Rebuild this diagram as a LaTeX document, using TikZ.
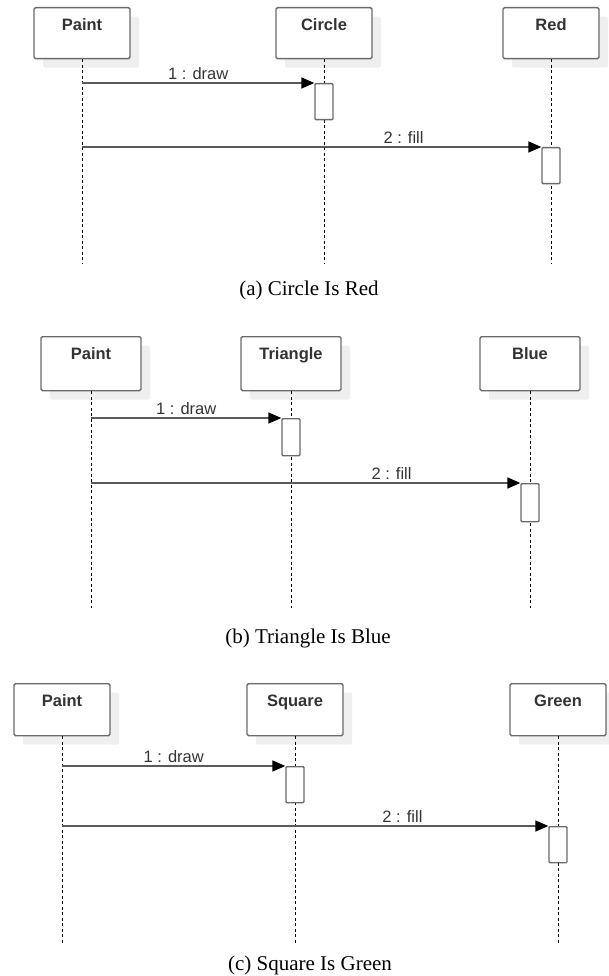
\documentclass[tikz,border=0pt]{standalone}
\usepackage{fontspec}
\setmainfont{Liberation Serif}
\setsansfont{Liberation Sans}
\usepackage{tikz}
\usetikzlibrary{
  arrows.meta,
  positioning,
  shadows
}
\definecolor{sdLine}{HTML}{6A6A6A}
\definecolor{sdArrow}{HTML}{5A5A5A}
\definecolor{sdShadow}{HTML}{EFEFEF}
\definecolor{sdText}{HTML}{333333}
\tikzset{
  lifebox/.style={
    draw=sdLine, line width=1.4pt, rounded corners=1.5pt, fill=white,
    minimum width=96pt, text height=12pt, text depth=17pt, inner ysep=11pt,
    font=\sffamily\bfseries\fontsize{16.5}{18}\selectfont, text=sdText, anchor=north,
    drop shadow={shadow xshift=9pt, shadow yshift=-9pt, fill=sdShadow, opacity=1}
  },
  actbox/.style={
    draw=sdLine, line width=1.3pt, rounded corners=1pt, fill=white,
    minimum width=18pt, minimum height=36pt, inner sep=0pt, anchor=north
  },
  msg/.style={draw=sdArrow, line width=1.4pt, -{Triangle[length=13pt, width=11pt, color=black]}},
  msglabel/.style={font=\sffamily\fontsize{16.5}{18}\selectfont, text=sdText, above, inner sep=3pt},
  lifeline/.style={draw=black, line width=1pt, dash pattern=on 3pt off 2.5pt},
  figcap/.style={font=\fontsize{21}{25}\selectfont}
}

\begin{document}
\begin{tikzpicture}[x=1pt, y=-1pt]
  \useasboundingbox (0,0) rectangle (608,976);

  % (a) Circle Is Red
  \node[lifebox] (paintA) at (82,7) {Paint};
  \node[lifebox] (circleA) at (324,7) {Circle};
  \node[lifebox] (redA) at (551,7) {Red};
  \draw[lifeline] (paintA.south) -- ++(0,205);
  \draw[lifeline] (circleA.south) -- ++(0,205);
  \draw[lifeline] (redA.south) -- ++(0,205);
  \node[actbox] (drawA) at (324,83) {};
  \node[actbox] (fillA) at (551,147) {};
  \draw[msg] (paintA.south |- drawA.north west) -- (drawA.north west) node[msglabel, pos=.5] {1 : draw};
  \draw[msg] (paintA.south |- fillA.north west) -- (fillA.north west) node[msglabel, pos=.7] {2 : fill};
  \node[figcap] (capA) at (309,290) {(a) Circle Is Red};

  % (b) Triangle Is Blue
  \node[lifebox, minimum width=100pt, text depth=20pt] (paintB) at (91,336) {Paint};
  \node[lifebox, minimum width=100pt, text depth=20pt] (triangleB) at (291,336) {Triangle};
  \node[lifebox, minimum width=100pt, text depth=20pt] (blueB) at (530,336) {Blue};
  \draw[lifeline] (paintB.south) -- ++(0,217);
  \draw[lifeline] (triangleB.south) -- ++(0,217);
  \draw[lifeline] (blueB.south) -- ++(0,217);
  \node[actbox, minimum height=37pt] (drawB) at (291,418) {};
  \node[actbox, minimum height=38pt] (fillB) at (530,483) {};
  \draw[msg] (paintB.south |- drawB.north west) -- (drawB.north west) node[msglabel, pos=.5] {1 : draw};
  \draw[msg] (paintB.south |- fillB.north west) -- (fillB.north west) node[msglabel, pos=.7] {2 : fill};
  \node[figcap] (capB) at (308,638) {(b) Triangle Is Blue};

  % (c) Square Is Green
  \node[lifebox, text depth=18pt] (paintC) at (62,683) {Paint};
  \node[lifebox, text depth=18pt] (squareC) at (295,683) {Square};
  \node[lifebox, text depth=18pt] (greenC) at (558,683) {Green};
  \draw[lifeline] (paintC.south) -- ++(0,207);
  \draw[lifeline] (squareC.south) -- ++(0,207);
  \draw[lifeline] (greenC.south) -- ++(0,207);
  \node[actbox] (drawC) at (295,766) {};
  \node[actbox] (fillC) at (558,826) {};
  \draw[msg] (paintC.south |- drawC.north west) -- (drawC.north west) node[msglabel, pos=.5] {1 : draw};
  \draw[msg] (paintC.south |- fillC.north west) -- (fillC.north west) node[msglabel, pos=.7] {2 : fill};
  \node[figcap] (capC) at (310,965) {(c) Square Is Green};
\end{tikzpicture}
\end{document}
